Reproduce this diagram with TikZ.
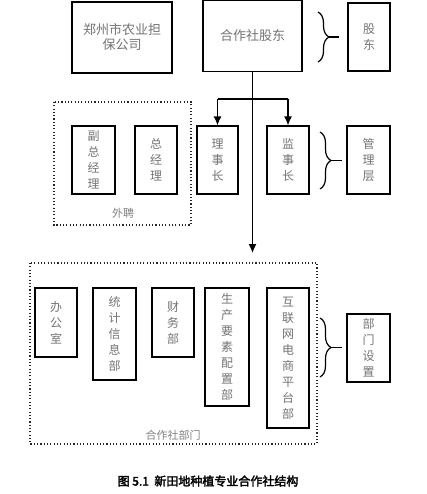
\documentclass[tikz,border=0pt]{standalone}
\usepackage{fontspec}
\newfontfamily\cjk{Noto Sans CJK SC}
\newfontfamily\cjkbold[FakeBold=2.5]{Noto Sans CJK SC}
\usetikzlibrary{arrows.meta,decorations.pathreplacing}
\begin{document}
\begin{tikzpicture}[x=1pt,y=-1pt,
  box/.style={draw=black,line width=1.2pt,inner sep=0pt,align=center,text=black!55,
    font=\cjk\fontsize{12}{16}\selectfont},
  dotbox/.style={draw=black!85,line width=1.3pt,dash pattern=on 1.1pt off 2.2pt},
  lbl/.style={text=black!50,font=\cjk\fontsize{11}{13}\selectfont,inner sep=0pt},
  brc/.style={decorate,decoration={brace,amplitude=11pt},line width=1.2pt},
  conn/.style={line width=1.3pt,-{Latex[length=9pt,width=8pt]}}]
\useasboundingbox (0,0) rectangle (427,494);
% top row
\node[box,minimum width=100pt,minimum height=71pt,font=\cjk\fontsize{13}{15}\selectfont] (zz) at (122,37.5) {郑州市农业担\\保公司};
\node[box,minimum width=99pt,minimum height=71pt,font=\cjk\fontsize{13}{15}\selectfont] (sh) at (252.5,36) {合作社股东};
\node[box,minimum width=42pt,minimum height=68pt] (gd) at (369,37) {股\\东};
% middle row
\draw[dotbox] (54,102) rectangle (191,225);
\node[lbl] (wp) at (123,213) {外聘};
\node[box,minimum width=43pt,minimum height=68pt] (fz) at (93.5,160) {副\\总\\经\\理};
\node[box,minimum width=42pt,minimum height=68pt] (zj) at (156,160) {总\\经\\理};
\node[box,minimum width=41pt,minimum height=68pt] (lsz) at (217.5,160) {理\\事\\长};
\node[box,minimum width=42pt,minimum height=68pt] (jsz) at (288,160) {监\\事\\长};
\node[box,minimum width=43pt,minimum height=68pt] (gl) at (368.5,160) {管\\理\\层};
% bottom row
\draw[dotbox] (30,263) rectangle (317,444);
\node[lbl] (bmlbl) at (173,435) {合作社部门};
\node[box,minimum width=42pt,minimum height=69pt] (bgs) at (56,322.5) {办\\公\\室};
\node[box,minimum width=43pt,minimum height=92pt] (tj) at (114.5,334) {统\\计\\信\\息\\部};
\node[box,minimum width=42pt,minimum height=69pt] (cw) at (173,322.5) {财\\务\\部};
\node[box,minimum width=44pt,minimum height=118pt] (sc) at (227,347) {生\\产\\要\\素\\配\\置\\部};
\node[box,minimum width=42pt,minimum height=140pt] (hl) at (288,358) {互\\联\\网\\电\\商\\平\\台\\部};
\node[box,minimum width=43pt,minimum height=68pt] (bm) at (368.5,348) {部\\门\\设\\置};
% connectors
\coordinate (j) at (252.5,99);
\coordinate (down) at (252.5,253);
\draw[conn] (sh.south) -- (down);
\draw[line width=1.3pt] (lsz.north |- j) -- (jsz.north |- j);
\draw[conn] (lsz.north |- j) -- (lsz.north);
\draw[conn] (jsz.north |- j) -- (jsz.north);
% braces
\draw[brc] (318,12) -- (318,62);
\draw[line width=1.2pt] (329,37) -- (339,37);
\draw[brc] (320,132) -- (320,189);
\draw[line width=1.2pt] (331,160.5) -- (342,160.5);
\draw[brc] (320,318) -- (320,377);
\draw[line width=1.2pt] (331,347.5) -- (342,347.5);
% caption
\node[inner sep=0pt,font=\cjkbold\fontsize{12}{14}\selectfont] (cap) at (208,481) {图\ 5.1\ \ 新田地种植专业合作社结构};
\end{tikzpicture}
\end{document}
